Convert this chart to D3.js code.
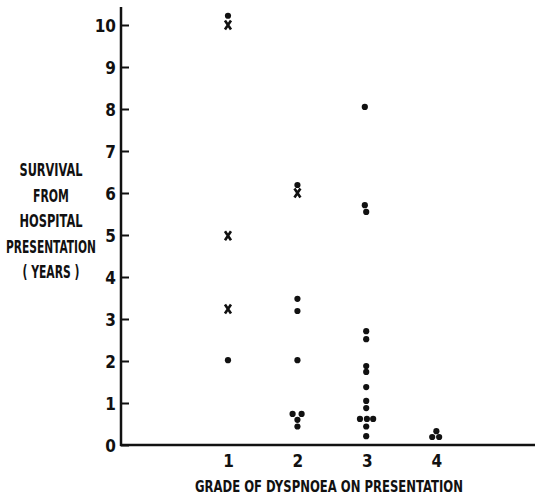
<!DOCTYPE html>
<html>
<head>
<meta charset="utf-8">
<script src="https://cdn.jsdelivr.net/npm/d3@7"></script>
<style>
  body { margin: 0; background: #fff; }
  text { font-family: "DejaVu Sans Condensed", "Liberation Sans Narrow", sans-serif; font-weight: bold; fill: #111; }
</style>
</head>
<body>
<div id="chart"></div>
<script>
// survival (years) by grade of dyspnoea; dx = small sideways shift for overlapping points
const dotGrade = [1, 1, 2, 2, 2, 2, 2, 2, 2, 2, 3, 3, 3, 3, 3, 3, 3, 3, 3, 3, 3, 3, 3, 3, 3, 4, 4, 4];
const dotYears = [10.22, 2.02, 6.19, 3.48, 3.19, 2.02, 0.74, 0.74, 0.6, 0.44,
  8.05, 5.71, 5.55, 2.71, 2.52, 1.88, 1.74, 1.38, 1.05, 0.88, 0.62, 0.62, 0.62, 0.44, 0.21,
  0.33, 0.19, 0.19];
const dotDx = [0, 0, 0, 0, 0, 0, -0.07, 0.06, 0, 0,
  -0.03, -0.03, -0.01, -0.01, -0.01, -0.01, -0.01, -0.01, -0.01, -0.01, -0.1, 0, 0.09, -0.01, -0.01,
  0, -0.06, 0.04];

const crossGrade = [1, 1, 1, 2];
const crossYears = [10.0, 4.98, 3.24, 6.0];

const yTicks = [0, 1, 2, 3, 4, 5, 6, 7, 8, 9, 10];
const xTicks = [1, 2, 3, 4];
const yLabelLines = ["SURVIVAL", "FROM", "HOSPITAL", "PRESENTATION", "( YEARS )"];
const xTitle = "GRADE OF DYSPNOEA ON PRESENTATION";

const width = 535, height = 496;
const axisX = 121, axisY = 445;

const svg = d3.select("#chart").append("svg")
  .attr("width", width)
  .attr("height", height);

const x = d3.scaleLinear().domain([-0.54, 5.42]).range([axisX, width]);
const y = d3.scaleLinear().domain([0, 10]).range([axisY, 25]);

// squeeze a text horizontally to a given width (keeps its box honest)
function fitText(sel, left, base, w) {
  const natural = sel.node().getComputedTextLength();
  sel.attr("x", 0).attr("y", 0)
    .attr("transform", `translate(${left},${base}) scale(${w / natural},1)`);
}

// y axis, ticks pointing inward
const yAxis = svg.append("g")
  .attr("transform", `translate(${axisX},0)`)
  .call(d3.axisLeft(y).tickValues(yTicks).tickSize(-8).tickPadding(5).tickFormat(d3.format("d")));
yAxis.select(".domain").remove();
yAxis.selectAll(".tick line").attr("stroke", "#111").attr("stroke-width", 2);
yAxis.selectAll(".tick text").style("font-size", "17px").attr("dy", "0.36em").attr("fill", "#111");

svg.append("line")
  .attr("x1", axisX).attr("x2", axisX)
  .attr("y1", 7).attr("y2", axisY + 1)
  .attr("stroke", "#111").attr("stroke-width", 2.5);

// x axis: baseline only, labels below
const xAxis = svg.append("g")
  .attr("transform", `translate(0,${axisY})`)
  .call(d3.axisBottom(x).tickValues(xTicks).tickSize(0).tickPadding(10).tickFormat(d3.format("d")));
xAxis.select(".domain").remove();
xAxis.selectAll(".tick text").style("font-size", "17px").attr("fill", "#111");

svg.append("line")
  .attr("x1", axisX - 1).attr("x2", width)
  .attr("y1", axisY).attr("y2", axisY)
  .attr("stroke", "#111").attr("stroke-width", 2.5);

const title = svg.append("text")
  .style("font-size", "16px")
  .text(xTitle);
fitText(title, 195, 492, 268);

// multi-line y label
const yLab = svg.append("g");
const labWidths = [63, 36, 63, 90, 57];
yLabelLines.forEach((t, i) => {
  const line = yLab.append("text")
    .style("font-size", "17px")
    .text(t);
  fitText(line, 51 - labWidths[i] / 2, 176 + i * 25.5, labWidths[i]);
});

// dots
svg.append("g").selectAll("circle")
  .data(dotYears)
  .enter()
  .append("circle")
  .attr("cx", (d, i) => x(dotGrade[i] + dotDx[i]))
  .attr("cy", d => y(d))
  .attr("r", 3.1)
  .attr("fill", "#111");

// crosses
svg.append("g").selectAll("path")
  .data(crossYears)
  .enter()
  .append("path")
  .attr("transform", (d, i) => `translate(${x(crossGrade[i])},${y(d)})`)
  .attr("d", "M-3,-4.5L3,4.5M3,-4.5L-3,4.5")
  .attr("stroke", "#111")
  .attr("stroke-width", 2.6)
  .attr("fill", "none");
</script>
</body>
</html>
